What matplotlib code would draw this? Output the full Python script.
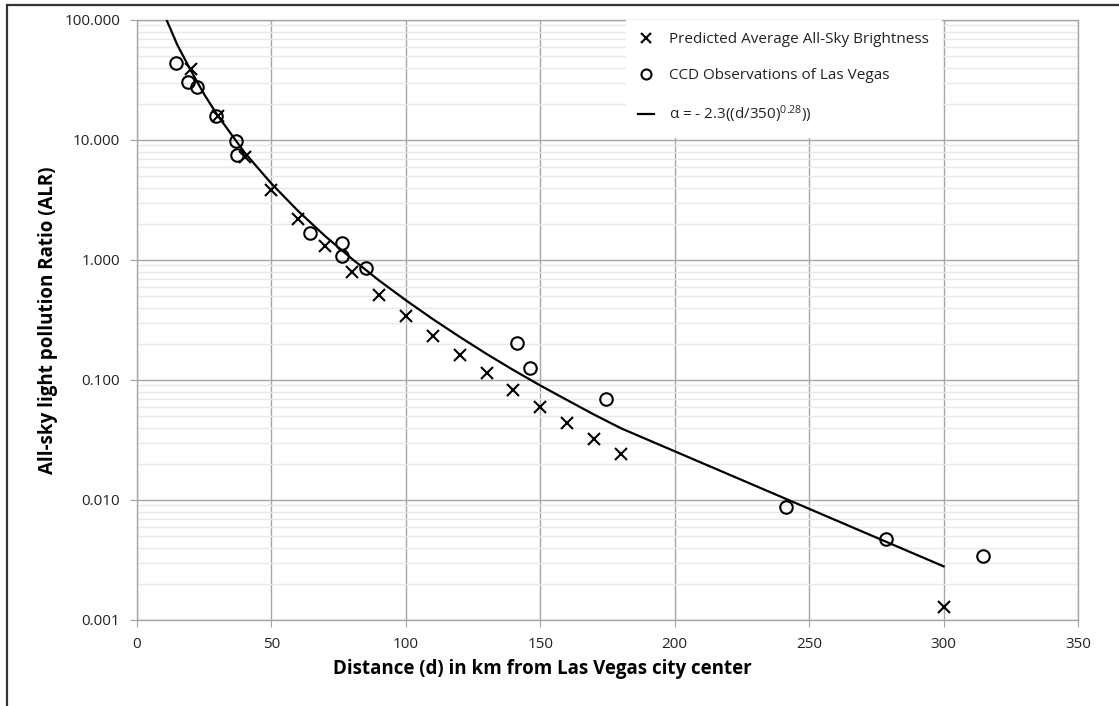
import matplotlib
matplotlib.use("Agg")
import matplotlib.pyplot as plt
from matplotlib.ticker import FixedLocator, LogLocator, NullFormatter, FuncFormatter
from matplotlib.patches import Rectangle

plt.rcParams['font.family'] = ['Open Sans', 'DejaVu Sans']
plt.rcParams['mathtext.fontset'] = 'custom'
plt.rcParams['mathtext.rm'] = 'Open Sans'
plt.rcParams['mathtext.it'] = 'Open Sans'

# predicted average all-sky brightness (x markers)
pred_d = [20, 30, 40, 50, 60, 70, 80, 90, 100, 110, 120, 130, 140, 150, 160, 170, 180, 300]
pred_alr = [39, 16, 7.2, 3.83, 2.2, 1.31, 0.79, 0.51, 0.34, 0.233, 0.162, 0.114,
            0.083, 0.060, 0.044, 0.032, 0.0242, 0.00128]

# CCD observations (open circles)
ccd_d = [14.5, 19, 22.3, 29.4, 36.8, 37.2, 64.3, 76.1, 76.4, 85.2, 141.2, 146.2, 174.3,
         241.3, 278.5, 314.5]
ccd_alr = [43.8, 30.4, 27.7, 16.0, 9.8, 7.5, 1.69, 1.38, 1.07, 0.85, 0.202, 0.125, 0.069,
           0.0088, 0.0047, 0.0034]

# fitted curve
fit_d = [10, 15, 20, 25, 30, 40, 50, 60, 70, 80, 90, 100, 110, 120, 130, 140, 150, 160,
         170, 180, 300]
fit_alr = [113, 62, 38, 24, 16, 7.87, 4.33, 2.55, 1.58, 1.02, 0.676, 0.462, 0.322, 0.229,
           0.165, 0.121, 0.090, 0.068, 0.0515, 0.0396, 0.0028]

fig = plt.figure(figsize=(11.19, 7.06), dpi=100)
fig.patches.append(Rectangle((7 / 1119, -0.1), 1.2, 1 - 5 / 706 + 0.1, transform=fig.transFigure,
                             fill=False, edgecolor='#333333', linewidth=1.6, zorder=0))
ax = fig.add_axes([137 / 1119, 1 - 620 / 706, 941 / 1119, 600 / 706])

ax.plot(fit_d, fit_alr, color='black', linewidth=1.6, zorder=3,
        label=r"α = - 2.3((d/350)$^{0.28}$))")
ax.plot(pred_d, pred_alr, linestyle='none', marker='x', markersize=9, markeredgewidth=1.5,
        color='black', zorder=4, label='Predicted Average All-Sky Brightness')
ax.plot(ccd_d, ccd_alr, linestyle='none', marker='o', markersize=9, markeredgewidth=1.5,
        markerfacecolor='none', markeredgecolor='black', zorder=4,
        label='CCD Observations of Las Vegas')

ax.set_yscale('log')
ax.set_xlim(0, 350)
ax.set_ylim(0.001, 100)
ax.xaxis.set_major_locator(FixedLocator([0, 50, 100, 150, 200, 250, 300, 350]))
ax.yaxis.set_major_locator(FixedLocator([0.001, 0.01, 0.1, 1, 10, 100]))
ax.yaxis.set_minor_locator(LogLocator(base=10, subs=range(2, 10)))
ax.yaxis.set_minor_formatter(NullFormatter())
ax.yaxis.set_major_formatter(FuncFormatter(lambda v, p: '%.3f' % v))

ax.grid(True, which='major', color='#a6a6a6', linewidth=1.0)
ax.grid(True, which='minor', axis='y', color='#e8e8e8', linewidth=1.0)
ax.set_axisbelow(True)
for s in ax.spines.values():
    s.set_color('#a6a6a6')
    s.set_linewidth(1.0)
ax.tick_params(axis='both', which='major', color='#a6a6a6', length=5, labelsize=11,
               labelcolor='#222222', pad=7)
ax.tick_params(axis='y', which='minor', length=0)

ax.set_ylabel('All-sky light pollution Ratio (ALR)', fontsize=13.5, fontweight='bold', labelpad=5)
fig.text(542 / 1119, 1 - 669 / 706, 'Distance (d) in km from Las Vegas city center',
         fontsize=13.5, fontweight='bold', ha='center', va='center')

# legend: white box, no border, top-right inside the plot
h, l = ax.get_legend_handles_labels()
order = [1, 2, 0]
leg = ax.legend([h[i] for i in order], [l[i] for i in order], loc='upper left',
                bbox_to_anchor=((626 - 137) / 941, 1.0), fontsize=11, frameon=True,
                fancybox=False, edgecolor='white', facecolor='white', framealpha=1,
                labelspacing=1.35, handlelength=1.0, handletextpad=1.0, borderpad=0.8,
                borderaxespad=0, markerscale=0.8)
leg.set_zorder(5)
for t in leg.get_texts():
    t.set_color('#222222')

fig.savefig('out.png', dpi=100)
